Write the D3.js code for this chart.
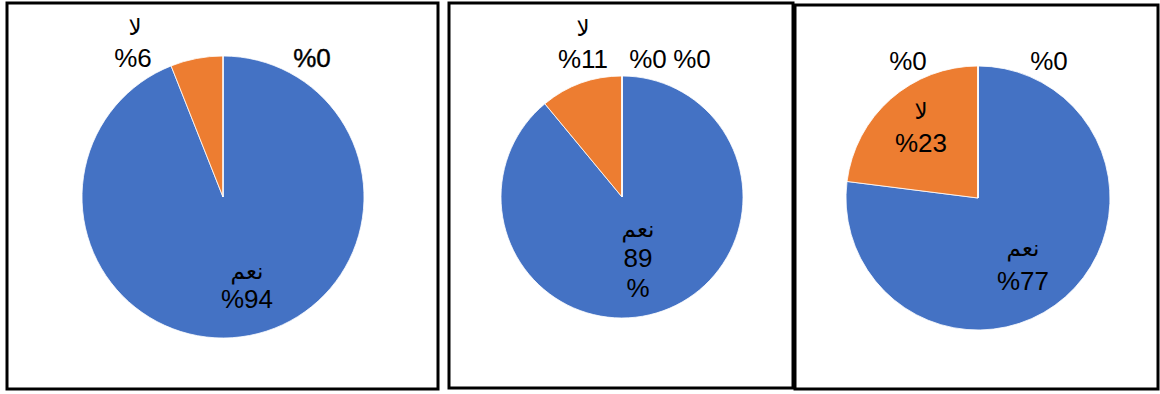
<!DOCTYPE html>
<html>
<head>
<meta charset="utf-8">
<script src="https://cdn.jsdelivr.net/npm/d3@7"></script>
<style>
  body { margin: 0; background: #fff; }
  svg text { font-family: "Liberation Sans", Arial, "DejaVu Sans", sans-serif; fill: #000; }
</style>
</head>
<body>
<div id="chart"></div>
<script>

// data
var categories = ["نعم", "لا"];
var yesValues = [94, 89, 77];
var noValues = [6, 11, 23];
var emptySlices = [[0], [0, 0], [0, 0]]; // the empty categories, shown only as %0

var colors = ["#4472C4", "#ED7D31", "#A5A5A5", "#FFC000"];

// layout of the three boxes (labels were dragged around by hand in the original)
var panels = [
    { x: 7, y: 3, w: 431, h: 386, cx: 223, cy: 197, r: 141,
      labels: [
          { cat: [247, 279], val: [247, 308] },
          { cat: [135, 35], val: [133, 67] },
          { val: [312, 67], bold: true }
      ] },
    { x: 449, y: 3, w: 344, h: 385, cx: 622, cy: 197, r: 121,
      labels: [
          { cat: [638, 237], val: [638, 267], wrap: true },
          { cat: [583, 36], val: [583, 68] },
          { val: [648, 68] },
          { val: [692, 68] }
      ] },
    { x: 795, y: 5, w: 363, h: 384, cx: 978, cy: 198, r: 132,
      labels: [
          { cat: [1023, 256], val: [1023, 290] },
          { cat: [921, 119], val: [921, 152] },
          { val: [908, 70] },
          { val: [1049, 70] }
      ] }
];

var width = 1160, height = 394;

var svg = d3.select("#chart").append("svg")
    .attr("width", width)
    .attr("height", height);

var pie = d3.pie().sort(null).value(function (d) { return d.value; });

panels.forEach(function (p, i) {
    var rows = [
        { name: categories[0], value: yesValues[i] },
        { name: categories[1], value: noValues[i] }
    ];
    emptySlices[i].forEach(function (v) { rows.push({ name: "", value: v }); });

    svg.append("rect")
        .attr("x", p.x)
        .attr("y", p.y)
        .attr("width", p.w)
        .attr("height", p.h)
        .attr("fill", "none")
        .attr("stroke", "#000")
        .attr("stroke-width", 3);

    var arc = d3.arc().innerRadius(0).outerRadius(p.r);

    var g = svg.append("g")
        .attr("transform", "translate(" + p.cx + "," + p.cy + ")");

    g.selectAll("path")
        .data(pie(rows))
        .enter().append("path")
        .attr("d", arc)
        .attr("fill", function (d, j) { return colors[j]; })
        .attr("stroke", "#fff")
        .attr("stroke-width", 0.8);

    rows.forEach(function (row, j) {
        var lab = p.labels[j];
        if (!lab) return;
        if (lab.cat && row.name) {
            svg.append("text")
                .attr("x", lab.cat[0])
                .attr("y", lab.cat[1])
                .attr("text-anchor", "middle")
                .style("font-family", "'DejaVu Sans', sans-serif")
                .style("font-size", "23px")
                .text(row.name);
        }
        if (lab.wrap) {
            svg.append("text")
                .attr("x", lab.val[0])
                .attr("y", lab.val[1])
                .attr("text-anchor", "middle")
                .style("font-size", "26px")
                .text(row.value);
            svg.append("text")
                .attr("x", lab.val[0])
                .attr("y", lab.val[1] + 30)
                .attr("text-anchor", "middle")
                .style("font-size", "26px")
                .text("%");
        } else {
            svg.append("text")
                .attr("x", lab.val[0])
                .attr("y", lab.val[1])
                .attr("text-anchor", "middle")
                .attr("direction", "ltr")
                .style("font-size", "26px")
                .style("stroke", lab.bold ? "#000" : null)
                .style("stroke-width", lab.bold ? 0.4 : null)
                .text("%" + row.value);
        }
    });
});

</script>
</body>
</html>
